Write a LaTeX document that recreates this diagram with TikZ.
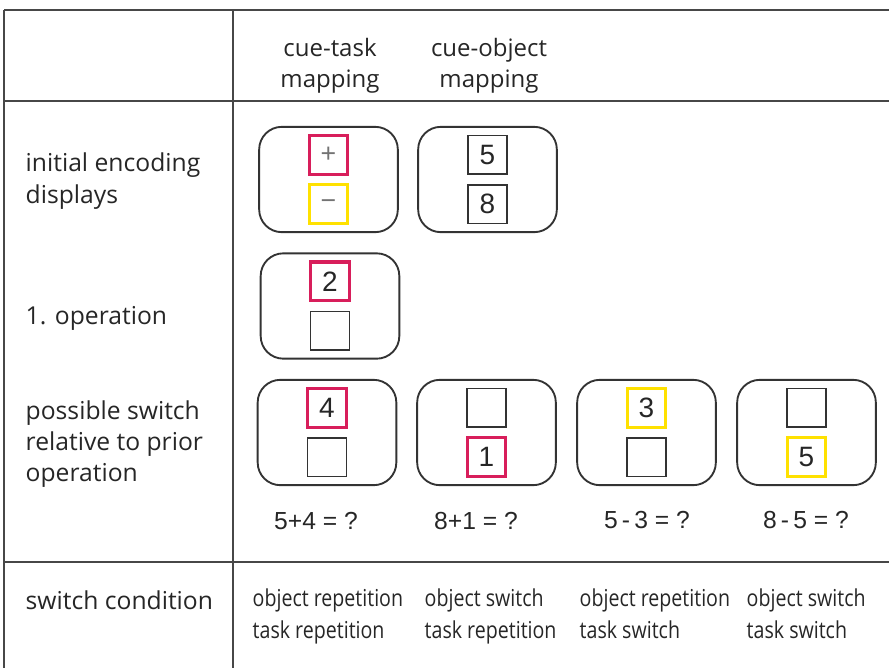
\documentclass[tikz,border=0pt]{standalone}
\usepackage{fontspec}
\setmainfont{Open Sans}
\newfontfamily\digitfont{Liberation Sans}
\newfontfamily\condfont[FakeStretch=0.84]{Open Sans}
\usetikzlibrary{positioning}
\definecolor{cuered}{HTML}{D81E5B}
\definecolor{cueyellow}{HTML}{FFE100}
\definecolor{rulegray}{HTML}{474747}

\begin{document}
\begin{tikzpicture}[x=0.75pt,y=-0.75pt,
 rule/.style={draw=rulegray,line width=1.5pt},
 panel/.style={draw=black!80,line width=1.4pt,rounded corners=17pt,minimum width=104pt,minimum height=79pt},
 cell/.style={draw=black!80,line width=1.2pt,minimum size=29pt,inner sep=0pt,text=black!85,font=\digitfont\fontsize{21}{21}\selectfont},
 redcell/.style={cell,draw=cuered,line width=2.3pt},
 yelcell/.style={cell,draw=cueyellow,line width=2.3pt},
 sign/.style={text=black!55,font=\digitfont\fontsize{20}{20}\selectfont},
 lab/.style={anchor=west,align=left,text=black!85,font=\fontsize{18.5}{23.5}\selectfont},
 head/.style={align=center,text=black!85,font=\fontsize{18}{23}\selectfont},
 eq/.style={text=black!85,font=\digitfont\fontsize{18.5}{18.5}\selectfont},
 cond/.style={anchor=west,align=left,text depth=5pt,text=black!85,font=\condfont\fontsize{17.5}{23.5}\selectfont}]
\useasboundingbox (0,0) rectangle (889,668);

% table rules
\draw[rule] (4,10) -- (889,10);
\draw[rule] (4,101) -- (889,101);
\draw[rule] (4,562) -- (889,562);
\draw[rule] (4,10) -- (4,668);
\draw[rule] (233,10) -- (233,668);

% column heads and row labels
\node[head] (hTask) at (330,66) {cue-task\\mapping};
\node[head] (hObj) at (489,66) {cue-object\\mapping};
\node[lab] (lInit) at (21,181) {initial encoding\\displays};
\node[lab] (lOp) at (21,318) {1. operation};
\node[lab] (lSwitch) at (21,444) {possible switch\\relative to prior\\operation};
\node[lab] (lCond) at (21,600) {switch condition};

% initial encoding displays
\node[panel] (pTask) at (328.5,179.5) {};
\node[redcell] (tPlus) at ([yshift=18.5pt]pTask.center) {};
\node[sign] at (tPlus) {+};
\node[yelcell] (tMinus) at ([yshift=-18.5pt]pTask.center) {};
\node[sign] at (tMinus) {−};
\node[panel] (pObj) at (487.5,179.5) {};
\node[cell] (oFive) at ([yshift=18.5pt]pObj.center) {5};
\node[cell] (oEight) at ([yshift=-18.5pt]pObj.center) {8};

% first operation
\node[panel] (pFirst) at (330,306) {};
\node[redcell] (fTop) at ([yshift=18.5pt]pFirst.center) {2};
\node[cell] (fBot) at ([yshift=-18.5pt]pFirst.center) {};

% second operation, one panel per switch condition
\node[panel] (pA) at (327,432.5) {};
\node[redcell] (aTop) at ([yshift=18.5pt]pA.center) {4};
\node[cell] (aBot) at ([yshift=-18.5pt]pA.center) {};
\node[panel] (pB) at (486.5,432.5) {};
\node[cell] (bTop) at ([yshift=18.5pt]pB.center) {};
\node[redcell] (bBot) at ([yshift=-18.5pt]pB.center) {1};
\node[panel] (pC) at (646.5,432.5) {};
\node[yelcell] (cTop) at ([yshift=18.5pt]pC.center) {3};
\node[cell] (cBot) at ([yshift=-18.5pt]pC.center) {};
\node[panel] (pD) at (806.5,432.5) {};
\node[cell] (dTop) at ([yshift=18.5pt]pD.center) {};
\node[yelcell] (dBot) at ([yshift=-18.5pt]pD.center) {5};

\node[eq] (eA) at (316,521) {5+4 = ?};
\node[eq] (eB) at (476,521) {8+1 = ?};
\node[eq] (eC) at (647,520) {5\,-\,3 = ?};
\node[eq] (eD) at (806,520) {8\,-\,5 = ?};

% switch conditions
\node[cond] (kA) at (248,617) {object repetition\\task repetition};
\node[cond] (kB) at (420,617) {object switch\\task repetition};
\node[cond] (kC) at (575,617) {object repetition\\task switch};
\node[cond] (kD) at (742,617) {object switch\\task switch};
\end{tikzpicture}
\end{document}
